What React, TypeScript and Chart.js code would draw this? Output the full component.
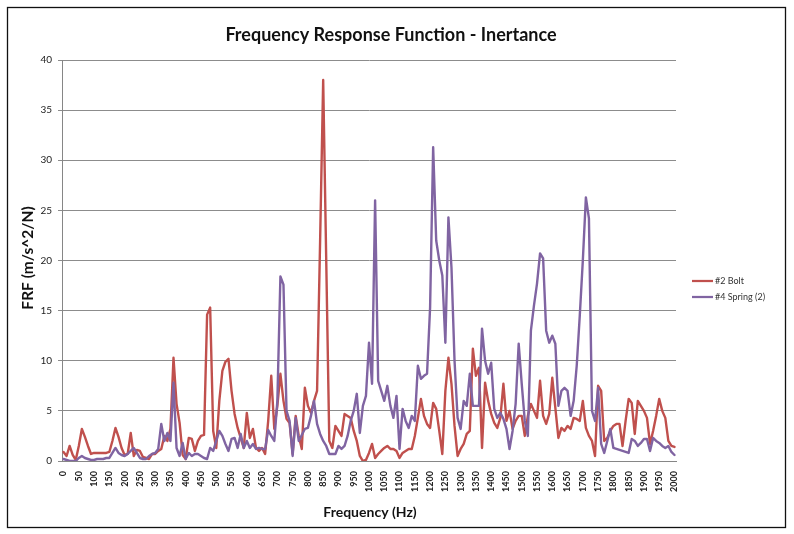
import React, { useEffect, useRef } from "react";
import { Chart, registerables } from "chart.js";

Chart.register(...registerables);

const TITLE = "Frequency Response Function - Inertance";
const X_TITLE = "Frequency (Hz)";
const Y_TITLE = "FRF (m/s^2/N)";

// categories: 0 .. 2000 Hz, every 10 Hz
const FREQUENCIES_HZ: number[] = Array.from({ length: 201 }, (_, i) => i * 10);
const X_LABEL_EVERY_HZ = 50;

const Y_MIN = 0;
const Y_MAX = 40;
const Y_STEP = 5;

const BOLT_LABEL = "#2 Bolt";
const SPRING_LABEL = "#4 Spring (2)";

const BOLT: number[] = [
  0.9, 0.5, 1.5, 0.6, 0.1, 1.5, 3.2, 2.4, 1.5, 0.7,
  0.8, 0.8, 0.8, 0.8, 0.8, 0.9, 2.0, 3.3, 2.4, 1.3,
  0.6, 0.7, 2.8, 0.5, 1.1, 1.0, 0.4, 0.3, 0.2, 0.7,
  0.7, 1.0, 1.2, 2.5, 2.0, 3.2, 10.3, 5.7, 3.8, 0.6,
  0.2, 2.3, 2.2, 1.0, 2.0, 2.5, 2.6, 14.6, 15.3, 3.0,
  1.3, 6.0, 9.0, 9.9, 10.2, 7.0, 4.7, 3.3, 2.3, 1.3,
  4.8, 2.3, 3.2, 1.3, 1.0, 1.3, 0.7, 4.0, 8.5, 3.2,
  5.5, 8.7, 6.0, 4.2, 3.8, 0.7, 4.5, 2.5, 1.2, 7.3,
  5.5, 4.8, 6.0, 7.0, 22.0, 38.0, 20.0, 2.0, 1.3, 3.5,
  3.0, 2.5, 4.7, 4.5, 4.3, 3.0, 2.0, 0.5, 0.0, 0.1,
  0.8, 1.7, 0.3, 0.7, 1.0, 1.3, 1.5, 1.2, 1.2, 1.0,
  0.3, 0.8, 1.0, 1.2, 1.2, 2.5, 4.3, 6.2, 4.5, 3.7,
  3.3, 5.8, 5.2, 3.0, 0.7, 7.0, 10.3, 7.7, 3.5, 0.5,
  1.2, 1.7, 2.7, 3.0, 11.2, 8.5, 9.3, 1.3, 7.8, 6.0,
  4.7, 3.8, 3.3, 4.3, 7.7, 4.0, 5.0, 3.2, 4.0, 4.5,
  4.5, 2.5, 4.5, 5.7, 5.0, 4.3, 8.0, 4.5, 3.7, 4.7,
  8.3, 5.3, 2.3, 3.3, 3.0, 3.5, 3.2, 4.3, 4.2, 4.0,
  6.0, 3.3, 2.5, 2.0, 0.5, 7.5, 7.0, 2.0, 2.3, 3.0,
  3.5, 3.7, 3.7, 1.5, 4.0, 6.2, 5.8, 2.7, 6.0, 5.5,
  5.0, 4.3, 1.7, 3.0, 4.5, 6.2, 5.0, 4.3, 2.0, 1.5,
  1.4,
];

const SPRING: number[] = [
  0.2, 0.1, 0.0, 0.0, 0.0, 0.3, 0.5, 0.3, 0.2, 0.1,
  0.1, 0.2, 0.2, 0.2, 0.3, 0.3, 0.8, 1.3, 0.8, 0.6,
  0.5, 0.7, 1.0, 1.3, 0.8, 0.3, 0.2, 0.2, 0.5, 0.7,
  0.8, 1.2, 3.7, 2.0, 2.8, 2.0, 7.8, 1.3, 0.5, 1.8,
  0.2, 0.8, 0.5, 0.7, 0.7, 0.5, 0.3, 0.2, 1.3, 1.0,
  2.0, 3.0, 2.5, 1.7, 1.0, 2.2, 2.3, 1.3, 2.7, 1.3,
  2.0, 1.3, 1.7, 1.2, 1.3, 1.2, 1.2, 3.1, 2.5, 2.0,
  6.0, 18.4, 17.6, 5.0, 4.0, 0.5, 4.3, 2.0, 2.6, 3.2,
  3.3, 4.5, 6.0, 3.7, 2.7, 2.0, 1.5, 0.7, 0.7, 0.7,
  1.5, 1.2, 1.5, 2.5, 4.0, 5.0, 6.7, 2.8, 5.5, 6.5,
  11.8, 7.7, 26.0, 8.0, 7.0, 6.0, 7.5, 5.5, 4.3, 6.5,
  1.2, 5.2, 4.0, 3.3, 4.5, 4.0, 9.5, 8.2, 8.5, 8.7,
  15.3, 31.3, 22.0, 20.0, 18.5, 11.8, 24.3, 19.3, 10.0, 4.3,
  3.2, 6.0, 5.5, 8.7, 5.5, 5.5, 5.5, 13.2, 10.0, 8.7,
  9.8, 5.2, 4.3, 4.8, 4.2, 3.2, 1.2, 3.0, 5.7, 11.7,
  7.7, 4.0, 2.5, 13.0, 15.5, 17.7, 20.7, 20.2, 13.0, 11.8,
  12.5, 11.7, 5.5, 7.0, 7.3, 7.0, 4.5, 6.0, 9.5, 14.5,
  20.0, 26.3, 24.2, 5.0, 4.0, 7.3, 1.7, 0.8, 2.0, 3.2,
  1.3, 1.2, 1.1, 1.0, 0.9, 0.8, 2.2, 2.0, 1.5, 1.8,
  2.2, 2.2, 1.0, 2.3, 2.0, 1.8, 1.5, 1.3, 1.5, 0.9,
  0.6,
];

const RED = "#C0504D";
const PURPLE = "#8064A2";
const FONT = "Lato, 'Open Sans', sans-serif";

const decorPlugin = {
  id: "decor",
  afterDraw(chart: any) {
    const ctx = chart.ctx as CanvasRenderingContext2D;
    ctx.save();
    // outer frame
    ctx.strokeStyle = "#111";
    ctx.lineWidth = 1.3;
    ctx.strokeRect(7.5, 7.5, 778, 520);

    ctx.fillStyle = "#111";
    ctx.textAlign = "center";
    ctx.textBaseline = "middle";
    ctx.font = `bold 18px ${FONT}`;
    ctx.fillText(TITLE, 391, 35);

    ctx.font = `bold 14px ${FONT}`;
    ctx.fillText(X_TITLE, 370, 512);

    ctx.save();
    ctx.translate(28, 258);
    ctx.rotate(-Math.PI / 2);
    ctx.font = `bold 15.5px ${FONT}`;
    ctx.fillText(Y_TITLE, 0, 0);
    ctx.restore();

    // legend
    const ys = [281, 297];
    ctx.textAlign = "left";
    ctx.font = `9px ${FONT}`;
    chart.data.datasets.forEach((ds: any, i: number) => {
      const y = ys[i];
      ctx.strokeStyle = ds.borderColor;
      ctx.lineWidth = 2.25;
      ctx.beginPath();
      ctx.moveTo(692, y);
      ctx.lineTo(713, y);
      ctx.stroke();
      ctx.fillStyle = "#333";
      ctx.fillText(ds.label, 715, y + 0.5);
    });
    ctx.restore();
  },
};

export default function App() {
  const ref = useRef<HTMLCanvasElement | null>(null);

  useEffect(() => {
    if (!ref.current) return;
    const chart = new Chart(ref.current, {
      type: "line",
      data: {
        labels: FREQUENCIES_HZ.map(String),
        datasets: [
          {
            label: BOLT_LABEL,
            data: BOLT,
            borderColor: RED,
            backgroundColor: RED,
            borderWidth: 2.4,
            pointRadius: 0,
            tension: 0,
            borderJoinStyle: "round",
            borderCapStyle: "round",
            order: 1,
          },
          {
            label: SPRING_LABEL,
            data: SPRING,
            borderColor: PURPLE,
            backgroundColor: PURPLE,
            borderWidth: 2.4,
            pointRadius: 0,
            tension: 0,
            borderJoinStyle: "round",
            borderCapStyle: "round",
            order: 0,
          },
        ],
      },
      options: {
        responsive: false,
        animation: false,
        devicePixelRatio: 1,
        layout: { padding: { left: 8, right: 118, top: 60, bottom: 8 } },
        plugins: {
          legend: { display: false },
          title: { display: false },
          tooltip: { enabled: false },
        },
        scales: {
          x: {
            type: "category",
            offset: true,
            grid: { display: false, drawTicks: false },
            border: { display: true, color: "#868686", width: 1 },
            ticks: {
              autoSkip: false,
              maxRotation: 90,
              minRotation: 90,
              padding: 10,
              color: "#222",
              font: { family: FONT, size: 9, weight: "bold" },
              callback: (_v: any, idx: number) =>
                FREQUENCIES_HZ[idx] % X_LABEL_EVERY_HZ === 0 ? String(FREQUENCIES_HZ[idx]) : null,
            },
            afterFit: (s: any) => {
              s.height = 65;
            },
          },
          y: {
            min: Y_MIN,
            max: Y_MAX,
            grid: {
              color: "#8c8c8c",
              lineWidth: 1,
              drawTicks: true,
              tickLength: 4,
            },
            border: { display: true, color: "#868686", width: 1 },
            ticks: {
              stepSize: Y_STEP,
              padding: 6,
              color: "#222",
              font: { family: FONT, size: 10 },
            },
            afterFit: (s: any) => {
              s.width = 54;
            },
          },
        },
      },
      plugins: [decorPlugin],
    });
    return () => chart.destroy();
  }, []);

  return (
    <div style={{ position: "absolute", left: 0, top: 0, width: 794, height: 534, background: "#fff" }}>
      <canvas ref={ref} width={794} height={534} />
    </div>
  );
}
